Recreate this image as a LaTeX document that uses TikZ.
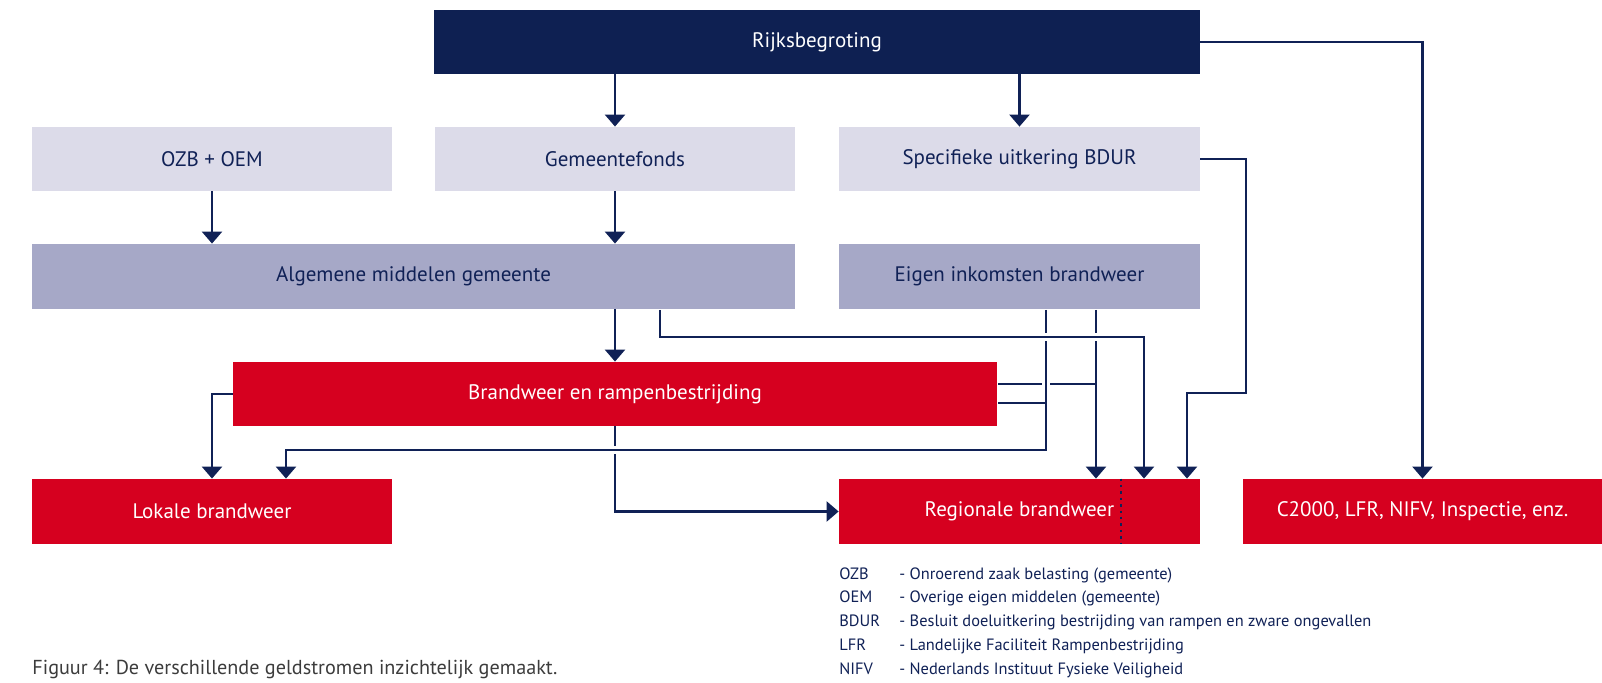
\documentclass[tikz,border=0pt]{standalone}
\usepackage{fontspec}
\setmainfont{PT Sans}
\usetikzlibrary{arrows.meta}

\definecolor{rijksblauw}{RGB}{14,32,82}
\definecolor{lichtpaars}{RGB}{220,219,233}
\definecolor{middenpaars}{RGB}{166,168,199}
\definecolor{brandrood}{RGB}{214,0,31}
\definecolor{lijnblauw}{RGB}{16,33,86}
\definecolor{onderschrift}{RGB}{60,60,60}

\tikzset{
	blok/.style={minimum height=32pt, inner sep=0pt, font=\fontsize{10.5}{12}\selectfont, text=lijnblauw},
	kop/.style={blok, fill=rijksblauw, text=white},
	bron/.style={blok, fill=lichtpaars},
	tussen/.style={blok, fill=middenpaars},
	rood/.style={blok, fill=brandrood, text=white},
	lijn/.style={draw=lijnblauw, line width=1.2pt},
	geld/.style={lijn, -{Triangle[width=10pt,length=6pt]}},
	boven/.style={preaction={draw=white, line width=3.6pt, -}},
	legenda/.style={anchor=base west, inner sep=0pt, font=\fontsize{8.2}{10}\selectfont, text=lijnblauw}
}

\begin{document}
\begin{tikzpicture}[x=0.5pt,y=-0.5pt]
	\useasboundingbox (0,0) rectangle (1602,683);

	\node[kop, minimum width=383pt] (rijks) at (817,42) {Rijksbegroting};

	\node[bron, minimum width=180pt] (ozb) at (212,159) {OZB + OEM};
	\node[bron, minimum width=180pt] (gemeente) at (615,159) {Gemeentefonds};
	\node[bron, minimum width=180.5pt] (bdur) at (1019.5,159) {Specifieke uitkering BDUR};

	\node[tussen, minimum width=381.5pt, minimum height=32.5pt] (algemeen) at (413.5,276.5) {Algemene middelen gemeente};
	\node[tussen, minimum width=180.5pt, minimum height=32.5pt] (eigen) at (1019.5,276.5) {Eigen inkomsten brandweer};

	\node[rood, minimum width=382pt] (brandweer) at (615,394) {Brandweer en rampenbestrijding};

	\node[rood, minimum width=180pt, minimum height=32.5pt] (lokaal) at (212,511.5) {Lokale brandweer};
	\node[rood, minimum width=180.5pt, minimum height=32.5pt] (regio) at (1019.5,511.5) {Regionale brandweer};
	\node[rood, minimum width=179.5pt, minimum height=32.5pt] (c2000) at (1422.5,511.5) {C2000, LFR, NIFV, Inspectie, enz.};

	\coordinate (a1) at (660,310);
	\coordinate (a2) at (660,337);
	\coordinate (a3) at (1144,337);

	\coordinate (e1) at (1046,310);
	\coordinate (e2) at (1046,450);
	\coordinate (e3) at (286,450);
	\coordinate (e4) at (1096,310);

	\coordinate (b1) at (998,384);
	\coordinate (b2) at (1096,384);
	\coordinate (b3) at (998,403);
	\coordinate (b4) at (1046,403);

	\coordinate (s1) at (1246,393);
	\coordinate (s2) at (1187,393);

	\coordinate (stip) at (1121,511.5);

	\draw[geld] (rijks.south -| gemeente) -- (gemeente.north);
	\draw[geld] (rijks.south -| bdur) -- (bdur.north);
	\draw[geld] (rijks.east) -| (c2000.north);

	\draw[geld] (ozb.south) -- (ozb.south |- algemeen.north);
	\draw[geld] (gemeente.south) -- (gemeente.south |- algemeen.north);
	\draw[geld] (algemeen.south -| brandweer) -- (brandweer.north);

	\draw[geld] (brandweer.west) -| (lokaal.north);
	\draw[geld] (brandweer.south) |- (regio.west);

	\draw[lijn] (b1) -- (b2);
	\draw[geld] (e4) -- (e4 |- regio.north);
	\draw[geld,boven] (e1) -- (e2) -- (e3) -- (e3 |- lokaal.north);
	\draw[lijn] (b3) -- (b4);
	\draw[geld,boven] (a1) -- (a2) -- (a3) -- (a3 |- regio.north);

	\draw[geld] (bdur.east) -| (s1) -- (s2) -- (s2 |- regio.north);

	\draw[lijnblauw, line width=1.2pt, dash pattern=on 1.2pt off 2pt] (regio.north -| stip) -- (regio.south -| stip);

	% legenda
	\node[legenda] (l1) at (839,580) {OZB};
	\node[legenda] (t1) at (899,580) {- Onroerend zaak belasting (gemeente)};
	\node[legenda] (l2) at (839,603) {OEM};
	\node[legenda] (t2) at (899,603) {- Overige eigen middelen (gemeente)};
	\node[legenda] (l3) at (839,627) {BDUR};
	\node[legenda] (t3) at (899,627) {- Besluit doeluitkering bestrijding van rampen en zware ongevallen};
	\node[legenda] (l4) at (839,651) {LFR};
	\node[legenda] (t4) at (899,651) {- Landelijke Faciliteit Rampenbestrijding};
	\node[legenda] (l5) at (839,675) {NIFV};
	\node[legenda] (t5) at (899,675) {- Nederlands Instituut Fysieke Veiligheid};

	\node[anchor=base west, inner sep=0pt, font=\fontsize{10.1}{12}\selectfont, text=onderschrift] (figuur) at (32,675) {Figuur 4: De verschillende geldstromen inzichtelijk gemaakt.};

\end{tikzpicture}
\end{document}
